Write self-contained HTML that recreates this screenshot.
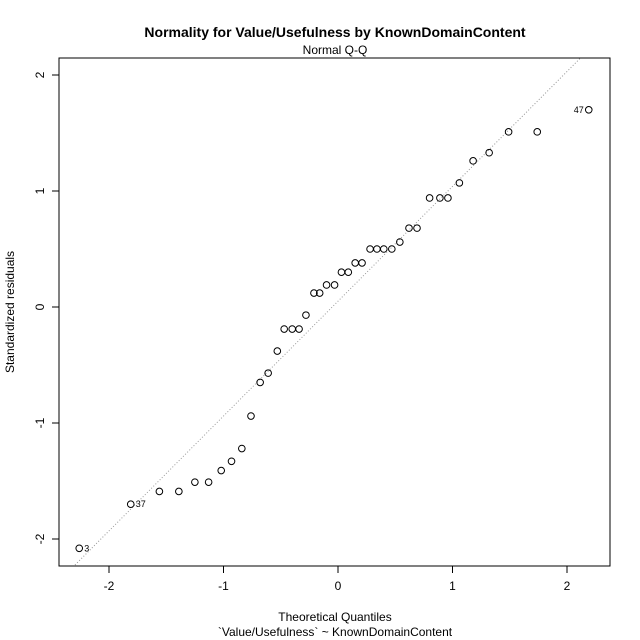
<!DOCTYPE html>
<html><head><meta charset="utf-8"><style>
body{margin:0;background:#fff}
svg{display:block;font-family:"Liberation Sans",Arial,sans-serif}
</style></head><body>
<svg id="c" width="640" height="640">
<text x="335" y="37" text-anchor="middle" font-size="14" font-weight="bold">Normality for Value/Usefulness by KnownDomainContent</text>
<text x="335" y="54" text-anchor="middle" font-size="12">Normal Q-Q</text>
<text x="335" y="621" text-anchor="middle" font-size="12">Theoretical Quantiles</text>
<text x="335" y="636" text-anchor="middle" font-size="12">`Value/Usefulness` ~ KnownDomainContent</text>
<text transform="translate(14,312) rotate(-90)" text-anchor="middle" font-size="12">Standardized residuals</text>
<defs><clipPath id="clip"><rect x="59" y="58" width="551" height="508"/></clipPath></defs>
<g id="plot"></g>
<rect x="59" y="58" width="551" height="508" fill="none" stroke="#000"/>
</svg>
<script>
const xTicks=[-2,-1,0,1,2];
const yTicks=[-2,-1,0,1,2];
const theoretical=[-2.26,-1.81,-1.56,-1.39,-1.25,-1.13,-1.02,-0.93,-0.84,-0.76,-0.68,-0.61,-0.53,-0.47,-0.40,-0.34,-0.28,-0.21,-0.16,-0.10,-0.03,0.03,0.09,0.15,0.21,0.28,0.34,0.40,0.47,0.54,0.62,0.69,0.80,0.89,0.96,1.06,1.18,1.32,1.49,1.74,2.19];
const residuals=[-2.08,-1.70,-1.59,-1.59,-1.51,-1.51,-1.41,-1.33,-1.22,-0.94,-0.65,-0.57,-0.38,-0.19,-0.19,-0.19,-0.07,0.12,0.12,0.19,0.19,0.30,0.30,0.38,0.38,0.50,0.50,0.50,0.50,0.56,0.68,0.68,0.94,0.94,0.94,1.07,1.26,1.33,1.51,1.51,1.70];
const pointLabels={0:"3",1:"37",40:"47"};
const lineIntercept=0.05, lineSlope=0.99;
const NS="http://www.w3.org/2000/svg";
const X=v=>338+v*114.5, Y=v=>307-v*116;
const g=document.getElementById('plot');
function mk(t,a){const e=document.createElementNS(NS,t);for(const k in a)e.setAttribute(k,a[k]);return e;}
xTicks.forEach(t=>{
 const l=mk('line',{x1:X(t),x2:X(t),y1:566,y2:573,stroke:'#000'});
 
 
 g.appendChild(l);
 const s=mk('text',{x:X(t),y:590,'text-anchor':'middle','font-size':12});s.textContent=t;
 
 
 g.appendChild(s);
});
yTicks.forEach(t=>{
 const l=mk('line',{x1:52,x2:59,y1:Y(t),y2:Y(t),stroke:'#000'});
 
 
 g.appendChild(l);
 const s=mk('text',{transform:`translate(44,${Y(t)}) rotate(-90)`,'text-anchor':'middle','font-size':12});s.textContent=t;
 
 
 g.appendChild(s);
});
const ref=mk('line',{x1:X(-3),y1:Y(lineIntercept-3*lineSlope),x2:X(3),y2:Y(lineIntercept+3*lineSlope),stroke:'#999','stroke-dasharray':'1 2','clip-path':'url(#clip)'});


g.appendChild(ref);
theoretical.forEach((tx,i)=>{
 const c=mk('circle',{cx:X(tx),cy:Y(residuals[i]),r:3.3,fill:'none',stroke:'#000','stroke-width':1});
 
 
 g.appendChild(c);
 if(pointLabels[i]){
  const left=i===40;
  const s=mk('text',{x:X(tx)+(left?-5:5),y:Y(residuals[i])+3,'text-anchor':left?'end':'start','font-size':9});
  s.textContent=pointLabels[i];
  
  
  g.appendChild(s);
 }
});
</script>
</body></html>
